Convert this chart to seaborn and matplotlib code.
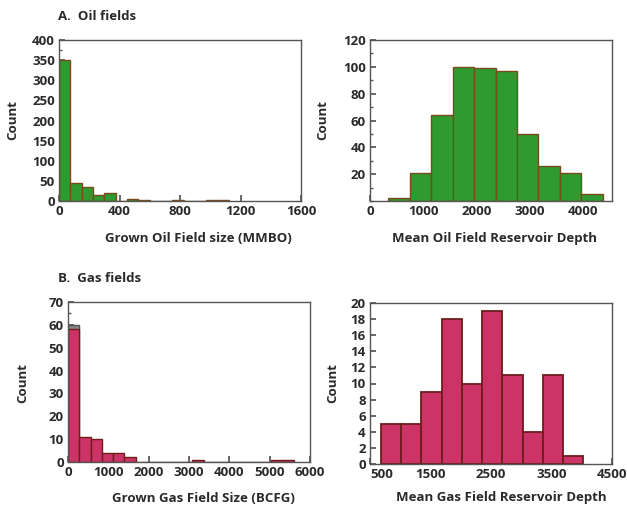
import numpy as np
import pandas as pd
import matplotlib
matplotlib.use("Agg")
import matplotlib.pyplot as plt
from matplotlib.ticker import MultipleLocator, FixedLocator
import seaborn as sns

sns.set_theme(style="ticks")
plt.rcParams["font.family"] = ["Open Sans", "DejaVu Sans"]
plt.rcParams["font.weight"] = "bold"

# --- Oil: grown field size (MMBO), bins of 75 starting at 0
oil_size_bin_width = 75
oil_size_counts = [350, 45, 35, 14, 19, 1, 5, 2, 0, 1, 2, 0, 0, 2, 2]

# --- Oil: mean reservoir depth, 10 bins
oil_depth_start = 345
oil_depth_bin_width = 402
oil_depth_counts = [2, 21, 64, 100, 99, 97, 50, 26, 21, 5]

# --- Gas: grown field size (BCFG), bins of 280 starting at 0
gas_size_bin_width = 280
gas_size_counts = [58, 11, 10, 4, 4, 2, 0, 0, 0, 0, 0, 1, 0, 0, 0, 0, 0, 0, 1, 1]
gas_size_total_first = [60]  # all fields in first bin (grey)

# --- Gas: mean reservoir depth, 10 bins
gas_depth_start = 683
gas_depth_bin_width = 334
gas_depth_counts = [5, 5, 9, 18, 10, 19, 11, 4, 11, 1]

OIL_GREEN = "#2f9a2f"
OIL_EDGE = "#7a4a1c"
GAS_PINK = "#cc3366"
GAS_EDGE = "#6e1c1c"
FRAME = "#555555"
TEXT = "#2a2a2a"
WEIGHT = "bold"
FS = 9.5


def edges(start, width, n):
    return [float(start + width * i) for i in range(n + 1)]


def hist(ax, start, width, counts, color, edge, lw=1.0):
    e = edges(start, width, len(counts))
    df = pd.DataFrame({
        "value": [(a + b) / 2 for a, b in zip(e[:-1], e[1:])],
        "count": counts,
    })
    sns.histplot(data=df, x="value", weights="count", bins=e, ax=ax,
                 color=color, edgecolor=edge, linewidth=lw, alpha=1.0)


def style(ax):
    for s in ax.spines.values():
        s.set_color(FRAME)
        s.set_linewidth(1.0)
    ax.tick_params(direction="in", which="both", colors=FRAME, labelcolor=TEXT,
                   labelsize=FS, top=False, right=False, pad=3)
    ax.tick_params(which="major", length=4)
    ax.tick_params(which="minor", length=2.5)
    ax.set_xlabel("")
    ax.set_ylabel("")
    for lab in ax.get_xticklabels() + ax.get_yticklabels():
        lab.set_fontweight(WEIGHT)


fig = plt.figure(figsize=(6.27, 5.09), dpi=100)
W, H = 627, 509


def add_axes(x0, y0, x1, y1):
    return fig.add_axes([x0 / W, 1 - y1 / H, (x1 - x0) / W, (y1 - y0) / H])


# A left: oil size
ax1 = add_axes(59, 40, 301, 201)
hist(ax1, 0, oil_size_bin_width, oil_size_counts, OIL_GREEN, OIL_EDGE)
ax1.set_xlim(0, 1600)
ax1.set_ylim(0, 400)
ax1.xaxis.set_major_locator(MultipleLocator(400))
ax1.yaxis.set_major_locator(MultipleLocator(50))
ax1.yaxis.set_minor_locator(MultipleLocator(25))
style(ax1)

# A right: oil depth
ax2 = add_axes(370, 40, 612, 201)
hist(ax2, oil_depth_start, oil_depth_bin_width, oil_depth_counts, OIL_GREEN, OIL_EDGE)
ax2.set_xlim(0, 4540)
ax2.set_ylim(0, 120)
ax2.xaxis.set_major_locator(MultipleLocator(1000))
ax2.yaxis.set_major_locator(FixedLocator([20, 40, 60, 80, 100, 120]))
ax2.yaxis.set_minor_locator(MultipleLocator(10))
style(ax2)

# B left: gas size
ax3 = add_axes(68, 302, 310, 462)
hist(ax3, 0, gas_size_bin_width, gas_size_total_first, "#888888", "#555555")
hist(ax3, 0, gas_size_bin_width, gas_size_counts, GAS_PINK, GAS_EDGE)
ax3.set_xlim(0, 6000)
ax3.set_ylim(0, 70)
ax3.xaxis.set_major_locator(MultipleLocator(1000))
ax3.yaxis.set_major_locator(MultipleLocator(10))
ax3.yaxis.set_minor_locator(MultipleLocator(5))
style(ax3)

# B right: gas depth
ax4 = add_axes(370, 303, 612, 464)
hist(ax4, gas_depth_start, gas_depth_bin_width, gas_depth_counts, GAS_PINK, GAS_EDGE, lw=1.3)
ax4.set_xlim(500, 4500)
ax4.set_ylim(0, 20)
ax4.xaxis.set_major_locator(FixedLocator([500, 1500, 2500, 3500, 4500]))
ax4.xaxis.set_minor_locator(FixedLocator([1000, 2000, 3000, 4000]))
ax4.yaxis.set_major_locator(MultipleLocator(2))
style(ax4)
# the corner "500" sits just right of the axis so it clears the y-axis "0"
fig.canvas.draw()
for lab in ax4.get_xticklabels():
    if lab.get_text() == "500":
        lab.set_ha("left")
        lab.set_x(lab.get_position()[0])

# Panel titles, axis labels
txt = dict(color=TEXT, fontsize=FS, fontweight=WEIGHT)
fig.text(58 / W, 1 - 17 / H, "A.  Oil fields", ha="left", va="center", **txt)
fig.text(58 / W, 1 - 279 / H, "B.  Gas fields", ha="left", va="center", **txt)

fig.text(198 / W, 1 - 238 / H, "Grown Oil Field size (MMBO)", ha="center", va="center", **txt)
fig.text(494 / W, 1 - 238 / H, "Mean Oil Field Reservoir Depth", ha="center", va="center", **txt)
fig.text(203 / W, 1 - 499 / H, "Grown Gas Field Size (BCFG)", ha="center", va="center", **txt)
fig.text(501 / W, 1 - 498 / H, "Mean Gas Field Reservoir Depth", ha="center", va="center", **txt)

fig.text(13 / W, 1 - 120 / H, "Count", rotation=90, ha="center", va="center", **txt)
fig.text(323 / W, 1 - 120 / H, "Count", rotation=90, ha="center", va="center", **txt)
fig.text(23 / W, 1 - 383 / H, "Count", rotation=90, ha="center", va="center", **txt)
fig.text(333 / W, 1 - 383 / H, "Count", rotation=90, ha="center", va="center", **txt)

fig.savefig("out.png", dpi=100)
